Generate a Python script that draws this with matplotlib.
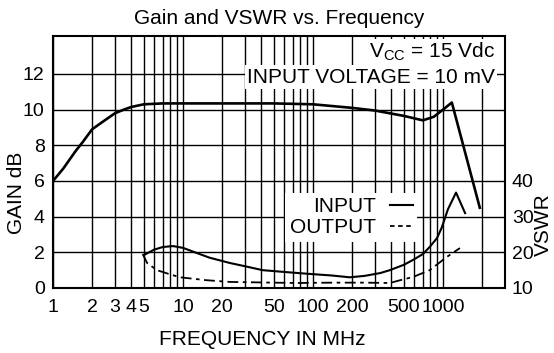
import matplotlib
matplotlib.use("Agg")
import matplotlib.pyplot as plt
from matplotlib.lines import Line2D
from matplotlib.ticker import FixedLocator, NullFormatter

plt.rcParams["font.family"] = ["Liberation Sans", "DejaVu Sans"]
plt.rcParams["mathtext.default"] = "regular"

# Gain (dB) versus frequency (MHz)
gain_freq = [1, 1.2, 1.5, 1.7, 2, 2.5, 3, 3.5, 4, 5, 7, 10, 20, 50, 100,
             200, 300, 500, 700, 850, 1000, 1170, 1920]
gain_db = [6.0, 6.7, 7.7, 8.2, 8.9, 9.4, 9.8, 10.0, 10.15, 10.3, 10.35, 10.35,
           10.35, 10.35, 10.3, 10.1, 9.95, 9.65, 9.4, 9.6, 10.0, 10.4, 4.5]

# Input VSWR versus frequency (MHz)
vswr_in_freq = [5, 6, 7, 8.4, 10, 12.8, 16, 23, 30, 41, 60, 90, 140, 192,
                250, 330, 390, 500, 590, 700, 790, 900, 980, 1090, 1260, 1480]
vswr_in = [19.25, 20.75, 21.5, 21.75, 21.25, 19.8, 18.5, 17.0, 16.1, 15.0,
           14.5, 14.0, 13.5, 13.0, 13.4, 14.2, 15.0, 16.5, 17.9, 19.5, 21.5,
           24.0, 27.0, 32.0, 36.75, 31.0]

# Output VSWR versus frequency (MHz)
vswr_out_freq = [4.9, 5.3, 6.3, 8, 9.5, 15, 23, 50, 75, 140, 250, 390, 470,
                 590, 790, 1070, 1350]
vswr_out = [19.5, 17.0, 15.0, 13.8, 13.0, 12.2, 11.7, 11.5, 11.4, 11.5, 11.5,
            11.4, 12.2, 13.1, 15.0, 18.7, 21.2]

x_major = [1, 2, 3, 4, 5, 10, 20, 50, 100, 200, 500, 1000]
x_minor = [6, 7, 8, 9, 30, 40, 60, 70, 80, 90, 300, 400, 600, 700, 800, 900,
           2000]
gain_ticks = [0, 2, 4, 6, 8, 10, 12]
vswr_ticks = [10, 20, 30, 40]

fig = plt.figure(figsize=(5.54, 3.53), dpi=100)
ax = fig.add_axes([53 / 554, 1 - 288 / 353, 452 / 554, 252 / 353])

ax.set_xscale("log")
ax.set_xlim(1, 3000)
ax.set_ylim(0, 14.13)

ax.xaxis.set_major_locator(FixedLocator(x_major))
ax.xaxis.set_minor_locator(FixedLocator(x_minor))
ax.xaxis.set_minor_formatter(NullFormatter())
ax.set_xticklabels([str(v) for v in x_major])
ax.set_yticks(gain_ticks)
ax.tick_params(axis="both", which="both", length=0, labelsize=14)
ax.tick_params(axis="x", pad=8)
ax.tick_params(axis="y", pad=6)

ax.grid(True, which="both", color="black", linewidth=1.0)
ax.set_axisbelow(True)
for sp in ax.spines.values():
    sp.set_linewidth(1.5)

ax.plot(gain_freq, gain_db, color="black", linewidth=1.9, zorder=3)

# VSWR scale on the right, sharing the frequency axis
ax2 = ax.twinx()
ax2.set_ylim(10, 10 + 5 * 14.13)
ax2.set_yticks(vswr_ticks)
ax2.tick_params(axis="y", length=0, labelsize=14, pad=5)
for sp in ax2.spines.values():
    sp.set_visible(False)

ax2.plot(vswr_in_freq, vswr_in, color="black", linewidth=1.5, zorder=3)
ax2.plot(vswr_out_freq, vswr_out, color="black", linewidth=1.3,
         dashes=[6, 2.5, 2, 2.5], zorder=3)

ax.set_title("Gain and VSWR vs. Frequency", fontsize=15, pad=9)
ax.set_xlabel("FREQUENCY IN MHz", fontsize=15, va="center")
ax.xaxis.set_label_coords(0.462, -0.206)
ax.set_ylabel("GAIN dB", fontsize=15, va="center")
ax.yaxis.set_label_coords(-0.081, 0.377)
ax2.set_ylabel("VSWR", fontsize=15, rotation=90, va="center")
ax2.yaxis.set_label_coords(1.084, 0.25)

box = dict(facecolor="white", edgecolor="none", pad=1.5)
ax2.text(0.978, 0.937, "V$_{CC}$ = 15 Vdc", transform=ax.transAxes,
         ha="right", va="center", fontsize=15, bbox=box, zorder=5)
ax2.text(0.978, 0.837, "INPUT VOLTAGE = 10 mV", transform=ax.transAxes,
         ha="right", va="center", fontsize=15, bbox=box, zorder=5)

handles = [Line2D([], [], color="black", linewidth=1.5),
           Line2D([], [], color="black", linewidth=1.3, dashes=[2.5, 2])]
leg = ax2.legend(handles, ["INPUT", "OUTPUT"], loc="center",
                 bbox_to_anchor=(0.66, 0.28), markerfirst=False,
                 fontsize=15, handlelength=1.1, handletextpad=0.7,
                 labelspacing=0.1, borderpad=0.2, frameon=True, fancybox=False)
leg.get_frame().set_facecolor("white")
leg.get_frame().set_edgecolor("none")
leg.get_frame().set_alpha(1)

fig.savefig("out.png", dpi=100)
